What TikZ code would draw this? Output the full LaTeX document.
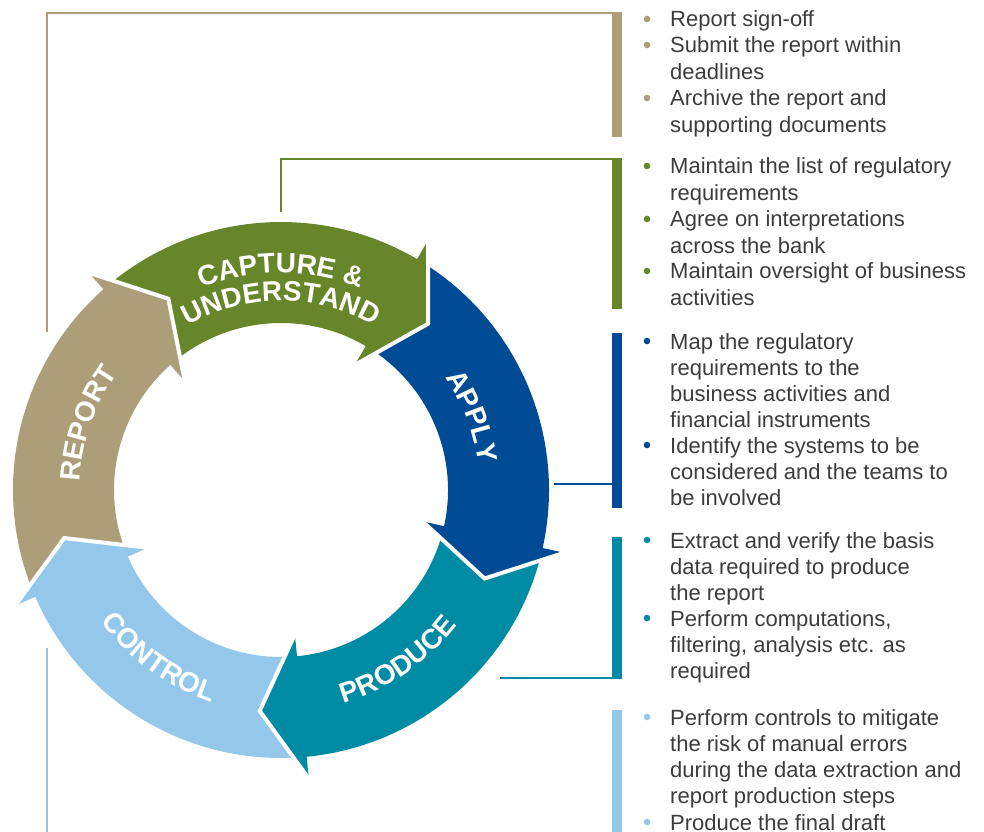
\documentclass[tikz,border=0pt]{standalone}
\usepackage{fontspec}
\setmainfont{Liberation Sans}
\usetikzlibrary{decorations.text}

\definecolor{repTan}{HTML}{AC9E78}
\definecolor{capGreen}{HTML}{678529}
\definecolor{appBlue}{HTML}{004B96}
\definecolor{proTeal}{HTML}{008BA4}
\definecolor{ctlBlue}{HTML}{93C8EB}
\definecolor{ink}{HTML}{3C3C3C}

\newcommand{\ringfont}{\fontsize{28}{28}\selectfont\bfseries}
\newcommand{\descfont}{\fontsize{22}{26.25}\selectfont}

% ring band of one step, base angle #2
\newcommand{\ringbody}[2]{%
  \fill[#1] (#2+70:268pt) arc[start angle=#2+70, end angle=#2-1, radius=268pt]
    -- (#2-1:167pt) arc[start angle=#2-1, end angle=#2+70, radius=167pt] -- cycle;}
% arrow head of one step
\newcommand{\ringhead}[2]{%
  \fill[#1] (#2:290pt) -- (#2-11:222pt) -- (#2:145pt) -- cycle;
  \draw[white, line width=4pt] (#2:290pt) -- (#2-11:222pt) -- (#2:145pt);}
% curved label: radius, start, end, text
\newcommand{\ringlabel}[4]{%
  \path[decorate, decoration={text along path, text align=center,
    text color=white, text={|\ringfont|#4}}]
    (#2:#1) arc[start angle=#2, end angle=#3, radius=#1];}
% bullet item: name, colour, baseline, text
\newcommand{\bitem}[4]{%
  \fill[#2] (647,#3+8) circle (3.3pt);
  \node[desc] (#1) at (670,#3) {\begin{tabular}[t]{@{}l@{}}#4\end{tabular}};}

\tikzset{
  desc/.style={anchor=base west, inner sep=0pt, font=\descfont, text=ink},
  link/.style={line width=2pt},
}

\begin{document}
\begin{tikzpicture}[x=1pt, y=1pt]
  \useasboundingbox (0,0) rectangle (984,831);

  % Ring
  \begin{scope}[shift={(281,341)}]
    \foreach \col/\ang in {repTan/131.5, capGreen/59.5, appBlue/-12.5, proTeal/-84.5, ctlBlue/-156.5}
      \ringbody{\col}{\ang};
    \foreach \col/\ang in {repTan/131.5, capGreen/59.5, appBlue/-12.5, proTeal/-84.5, ctlBlue/-156.5}
      \ringhead{\col}{\ang};

    % Labels
    \ringlabel{217pt}{135}{45}{CAPTURE {\&}}
    \ringlabel{189pt}{135}{45}{UNDERSTAND}
    \ringlabel{201pt}{205}{117}{REPORT}
    \ringlabel{199pt}{65}{-23}{APPLY}
    \ringlabel{222pt}{-100}{-11}{PRODUCE}
    \ringlabel{223pt}{-171}{-81}{CONTROL}
  \end{scope}

  % Bars
  \fill[repTan]   (612,694) rectangle (622,819);
  \fill[capGreen] (612,522) rectangle (622,673);
  \fill[appBlue]  (612,323) rectangle (622,498);
  \fill[proTeal]  (612,152) rectangle (622,294);
  \fill[ctlBlue]  (612,-10) rectangle (622,121);

  % Links
  \coordinate (tanA) at (47,499);  \coordinate (tanB) at (47,818);  \coordinate (tanC) at (612,818);
  \coordinate (grnA) at (281,619); \coordinate (grnB) at (281,672); \coordinate (grnC) at (612,672);
  \coordinate (bluA) at (554,347); \coordinate (bluC) at (612,347);
  \coordinate (tealA) at (500,153); \coordinate (tealC) at (612,153);
  \coordinate (ctlA) at (47,183);  \coordinate (ctlB) at (47,-10);
  \draw[link, repTan] (tanA) -- (tanB) -- (tanC);
  \draw[link, capGreen] (grnA) -- (grnB) -- (grnC);
  \draw[link, appBlue] (bluA) -- (bluC);
  \draw[link, proTeal] (tealA) -- (tealC);
  \draw[link, ctlBlue] (ctlA) -- (ctlB);

  % Texts
  \bitem{rep1}{repTan}{804}{Report sign-off}
  \bitem{rep2}{repTan}{778}{Submit the report within\\deadlines}
  \bitem{rep3}{repTan}{725}{Archive the report and\\supporting documents}
  \bitem{cap1}{capGreen}{657}{Maintain the list of regulatory\\requirements}
  \bitem{cap2}{capGreen}{604}{Agree on interpretations\\across the bank}
  \bitem{cap3}{capGreen}{552}{Maintain oversight of business\\activities}
  \bitem{app1}{appBlue}{482}{Map the regulatory\\requirements to the\\business activities and\\financial instruments}
  \bitem{app2}{appBlue}{378}{Identify the systems to be\\considered and the teams to\\be involved}
  \bitem{pro1}{proTeal}{283}{Extract and verify the basis\\data required to produce\\the report}
  \bitem{pro2}{proTeal}{205}{Perform computations,\\filtering, analysis etc. as\\required}
  \bitem{ctl1}{ctlBlue}{106}{Perform controls to mitigate\\the risk of manual errors\\during the data extraction and\\report production steps}
  \bitem{ctl2}{ctlBlue}{1}{Produce the final draft}
\end{tikzpicture}
\end{document}
